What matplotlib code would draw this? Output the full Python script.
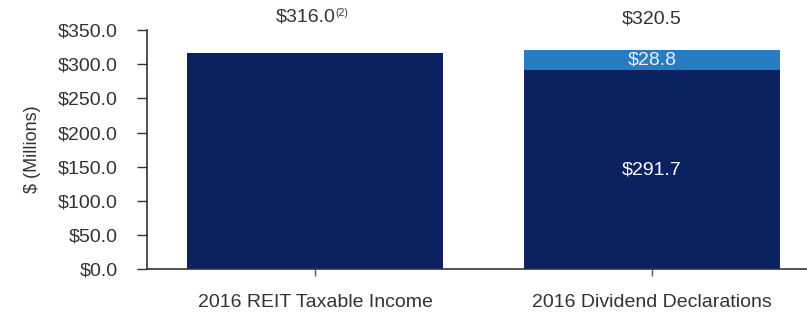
import matplotlib.pyplot as plt

# data
categories = ["2016 REIT Taxable Income", "2016 Dividend Declarations"]
base_values = [316.0, 291.7]
top_values = [0.0, 28.8]
totals = [316.0, 320.5]
y_ticks = [0, 50, 100, 150, 200, 250, 300, 350]

NAVY = "#0c2160"
LIGHT = "#2a7cc0"
TEXT = "#333333"

plt.rcParams["font.family"] = ["Liberation Sans", "DejaVu Sans"]

fig = plt.figure(figsize=(8.07, 3.2), dpi=100)
ax = fig.add_axes([0.182, 0.159, 0.818, 0.747])

x = list(range(len(categories)))
ax.bar(x, base_values, width=0.76, color=NAVY)
ax.bar(x, top_values, width=0.76, bottom=base_values, color=LIGHT)

ax.set_xlim(-0.5, 1.46)
ax.set_ylim(0, 350)
ax.set_yticks(y_ticks)
ax.set_yticklabels([f"${v:.1f}" for v in y_ticks], fontsize=14, color=TEXT)
ax.set_xticks(x)
ax.set_xticklabels(categories, fontsize=14, color=TEXT)
ax.tick_params(axis="y", length=7, width=1, color="#333333", pad=14)
ax.tick_params(axis="x", length=5, width=1, color="#555555", pad=13)
ax.set_ylabel("$ (Millions)", fontsize=13, color=TEXT, labelpad=12)

for side in ["top", "right"]:
    ax.spines[side].set_visible(False)
for side in ["left", "bottom"]:
    ax.spines[side].set_color("#333333")
    ax.spines[side].set_linewidth(1.2)

# total labels above bars
ax.annotate(f"${totals[0]:.1f}", xy=(x[0], 350), xytext=(-7, 3),
            textcoords="offset points", ha="center", va="bottom",
            fontsize=14, color=TEXT, annotation_clip=False)
ax.annotate("(2)", xy=(x[0], 350), xytext=(14.5, 9),
            textcoords="offset points", ha="left", va="bottom",
            fontsize=7.5, color=TEXT, annotation_clip=False)
ax.annotate(f"${totals[1]:.1f}", xy=(x[1], 350), xytext=(0, 2),
            textcoords="offset points", ha="center", va="bottom",
            fontsize=14, color=TEXT, annotation_clip=False)

# segment labels
ax.text(x[1], base_values[1] + top_values[1] / 2, f"${top_values[1]:.1f}",
        ha="center", va="center", fontsize=14, color="#e8f0fa")
ax.text(x[1], base_values[1] / 2, f"${base_values[1]:.1f}",
        ha="center", va="center", fontsize=14, color="white")

fig.savefig("out.png", dpi=100)
